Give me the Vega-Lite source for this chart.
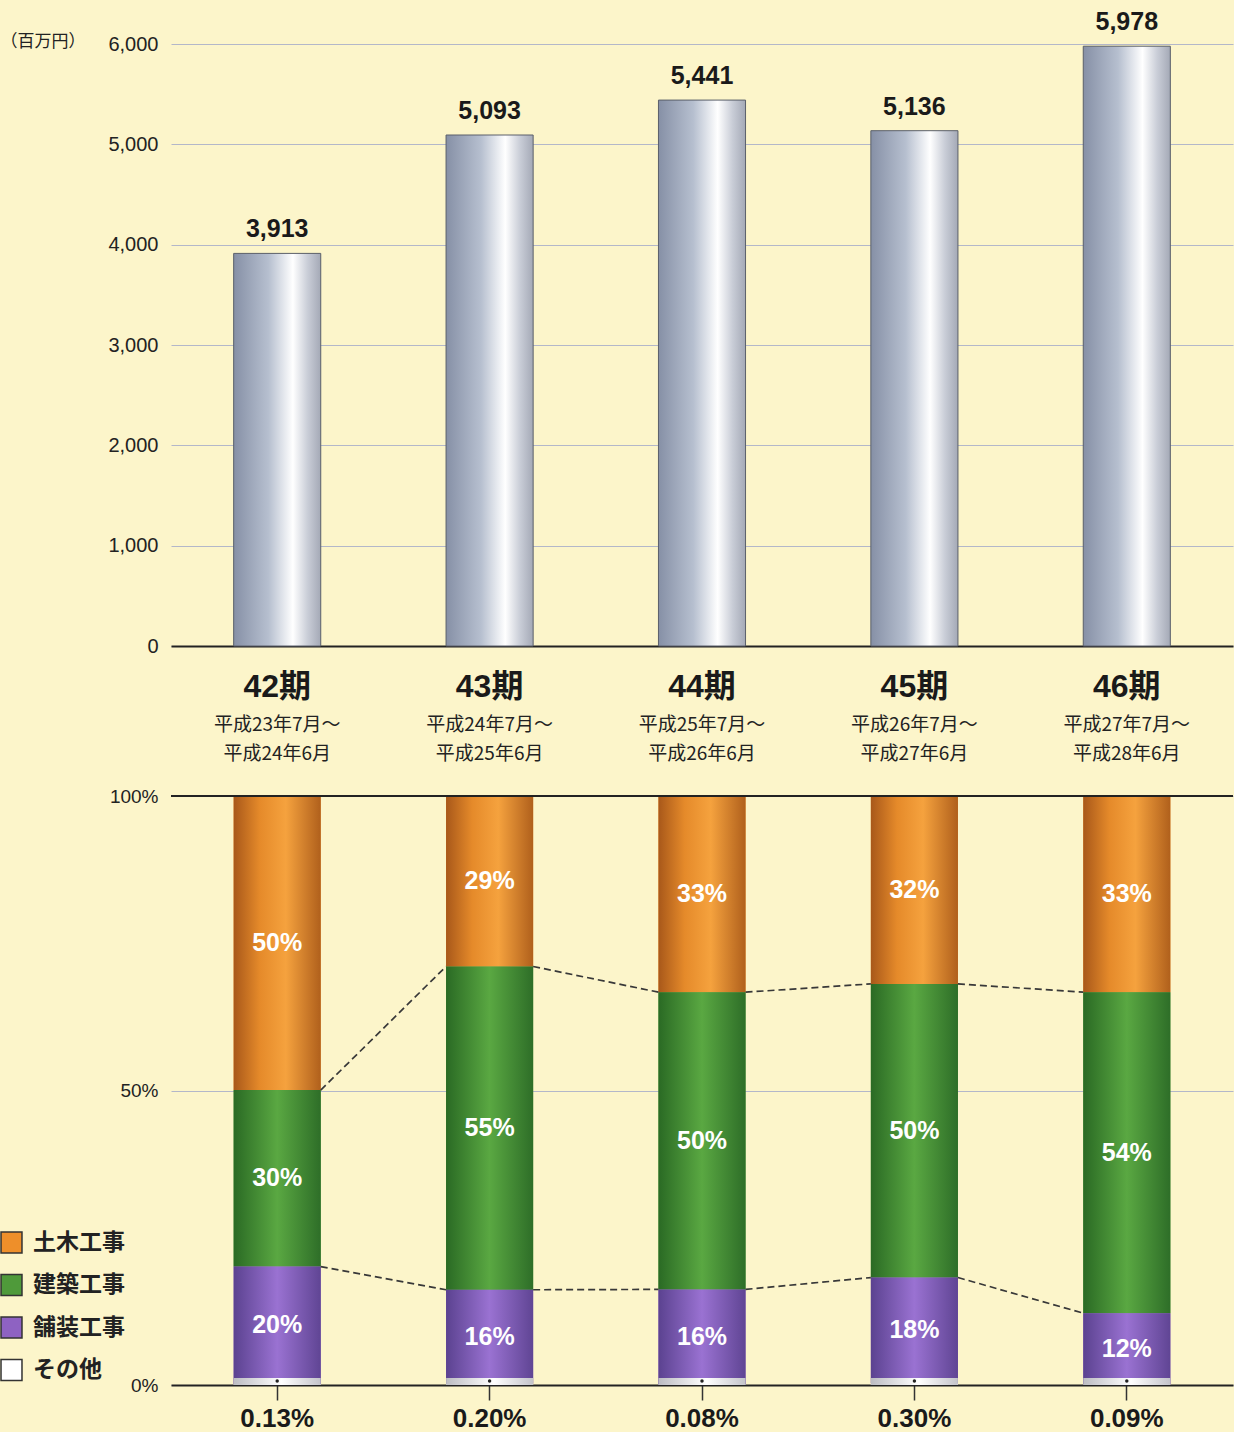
{
  "$schema": "https://vega.github.io/schema/vega-lite/v6.json",
  "background": "#fcf5ca",
  "padding": {"top": 10, "left": 0, "right": 0, "bottom": 0},
  "config": {
    "font": "Liberation Sans, Noto Sans CJK JP, sans-serif",
    "view": {"stroke": null},
    "axis": {"labelColor": "#222222", "labelFont": "Liberation Sans, Noto Sans CJK JP, sans-serif"}
  },
  "spacing": 23,
  "vconcat": [
    {
      "width": 1062,
      "height": 602,
      "data": {"values": [
        {"period": "42期", "sales": 3913, "term": "平成23年7月～\n平成24年6月"},
        {"period": "43期", "sales": 5093, "term": "平成24年7月～\n平成25年6月"},
        {"period": "44期", "sales": 5441, "term": "平成25年7月～\n平成26年6月"},
        {"period": "45期", "sales": 5136, "term": "平成26年7月～\n平成27年6月"},
        {"period": "46期", "sales": 5978, "term": "平成27年7月～\n平成28年6月"}
      ]},
      "encoding": {
        "x": {"field": "period", "type": "nominal", "sort": null,
          "scale": {"paddingInner": 0.59, "paddingOuter": 0.295},
          "axis": {"title": null, "labelAngle": 0, "ticks": false, "tickSize": 0, "labelPadding": 25,
            "labelFontSize": 32, "labelFontWeight": "bold", "labelColor": "#1a1a1a",
            "domainColor": "#222222", "domainWidth": 2, "grid": false}}
      },
      "layer": [
        {
          "mark": {"type": "bar", "stroke": "#5a5f6a", "strokeWidth": 1,
            "color": {"gradient": "linear", "x1": 0, "x2": 1, "y1": 0, "y2": 0,
              "stops": [
                {"offset": 0, "color": "#8690a6"},
                {"offset": 0.4, "color": "#b6bfcf"},
                {"offset": 0.68, "color": "#ffffff"},
                {"offset": 0.85, "color": "#c9cdd7"},
                {"offset": 1, "color": "#a4a9b6"}
              ]}},
          "encoding": {
            "y": {"field": "sales", "type": "quantitative",
              "scale": {"domain": [0, 6000]},
              "axis": {"values": [0, 1000, 2000, 3000, 4000, 5000, 6000], "format": ",d",
                "labelFontSize": 20, "labelPadding": 13, "domain": false, "ticks": false,
                "gridColor": "#b3b7c9", "gridWidth": 1.2,
                "title": "（百万円）", "titleAngle": 0, "titleAlign": "left", "titleBaseline": "middle",
                "titleX": -171, "titleY": -3, "titleFontSize": 17, "titleFontWeight": "normal",
                "titleColor": "#222222", "titleFont": "Noto Sans CJK JP"}}
          }
        },
        {
          "mark": {"type": "text", "baseline": "alphabetic", "dy": -16, "fontSize": 25,
            "fontWeight": "bold", "color": "#1a1a1a"},
          "encoding": {
            "y": {"field": "sales", "type": "quantitative"},
            "text": {"field": "sales", "type": "quantitative", "format": ",d"}
          }
        },
        {
          "mark": {"type": "text", "baseline": "top", "dy": 70, "fontSize": 19,
            "lineBreak": "\n", "lineHeight": 29, "color": "#222222",
            "font": "Noto Sans CJK JP, Liberation Sans, sans-serif"},
          "encoding": {
            "y": {"datum": 0, "type": "quantitative"},
            "text": {"field": "term"}
          }
        }
      ]
    },
    {
      "width": 1062,
      "height": 589,
      "data": {"values": [
        {"period": "42期", "cat": "土木工事", "share": 0.50, "k": 4},
        {"period": "42期", "cat": "建築工事", "share": 0.30, "k": 3},
        {"period": "42期", "cat": "舗装工事", "share": 0.20, "k": 2},
        {"period": "42期", "cat": "その他", "share": 0.0013, "k": 1},
        {"period": "43期", "cat": "土木工事", "share": 0.29, "k": 4},
        {"period": "43期", "cat": "建築工事", "share": 0.55, "k": 3},
        {"period": "43期", "cat": "舗装工事", "share": 0.16, "k": 2},
        {"period": "43期", "cat": "その他", "share": 0.0020, "k": 1},
        {"period": "44期", "cat": "土木工事", "share": 0.33, "k": 4},
        {"period": "44期", "cat": "建築工事", "share": 0.50, "k": 3},
        {"period": "44期", "cat": "舗装工事", "share": 0.16, "k": 2},
        {"period": "44期", "cat": "その他", "share": 0.0008, "k": 1},
        {"period": "45期", "cat": "土木工事", "share": 0.32, "k": 4},
        {"period": "45期", "cat": "建築工事", "share": 0.50, "k": 3},
        {"period": "45期", "cat": "舗装工事", "share": 0.18, "k": 2},
        {"period": "45期", "cat": "その他", "share": 0.0030, "k": 1},
        {"period": "46期", "cat": "土木工事", "share": 0.33, "k": 4},
        {"period": "46期", "cat": "建築工事", "share": 0.54, "k": 3},
        {"period": "46期", "cat": "舗装工事", "share": 0.12, "k": 2},
        {"period": "46期", "cat": "その他", "share": 0.0009, "k": 1}
      ]},
      "transform": [
        {"stack": "share", "groupby": ["period"], "sort": [{"field": "k"}], "as": ["s0", "s1"], "offset": "normalize"},
        {"calculate": "(datum.s0 + datum.s1) / 2", "as": "mid"}
      ],
      "layer": [
        {
          "mark": {"type": "bar"},
          "encoding": {
            "x": {"field": "period", "type": "nominal", "sort": null,
              "scale": {"paddingInner": 0.59, "paddingOuter": 0.295},
              "axis": {"title": null, "labels": false, "ticks": true, "tickSize": 15, "tickColor": "#333333",
                "tickWidth": 1.5, "domain": true, "domainColor": "#222222", "domainWidth": 2, "grid": false}},
            "y": {"field": "s0", "type": "quantitative", "scale": {"domain": [0, 1]},
              "axis": {"values": [0, 0.5, 1], "format": ".0%", "labelFontSize": 19, "labelPadding": 13,
                "domain": false, "ticks": false, "gridColor": "#b3b7c9", "gridWidth": 1.2, "title": null}},
            "y2": {"field": "s1"},
            "color": {"field": "cat", "type": "nominal",
              "scale": {"domain": ["土木工事", "建築工事", "舗装工事", "その他"],
                "range": ["#ee8f2a", "#4f9a3a", "#8e62c2", "#ffffff"]},
              "legend": {"orient": "none", "legendX": -171, "legendY": 1187, "title": null,
                "symbolType": "square", "symbolSize": 440, "symbolStrokeColor": "#333333",
                "symbolStrokeWidth": 1.5, "symbolOpacity": 1,
                "labelFontSize": 23, "labelFontWeight": "bold", "labelColor": "#222222",
                "labelFont": "Noto Sans CJK JP", "labelOffset": 10, "rowPadding": 15.5}}
          }
        },
        {
          "transform": [{"filter": "datum.cat == '土木工事'"}],
          "mark": {"type": "bar",
            "color": {"gradient": "linear", "x1": 0, "x2": 1, "y1": 0, "y2": 0,
              "stops": [
                {"offset": 0, "color": "#a8581a"},
                {"offset": 0.3, "color": "#e58a2a"},
                {"offset": 0.6, "color": "#f5a23e"},
                {"offset": 1, "color": "#b0601c"}
              ]}},
          "encoding": {
            "x": {"field": "period", "type": "nominal", "sort": null},
            "y": {"field": "s0", "type": "quantitative"}, "y2": {"field": "s1"}}
        },
        {
          "transform": [{"filter": "datum.cat == '建築工事'"}],
          "mark": {"type": "bar",
            "color": {"gradient": "linear", "x1": 0, "x2": 1, "y1": 0, "y2": 0,
              "stops": [
                {"offset": 0, "color": "#2a6a24"},
                {"offset": 0.5, "color": "#5aa842"},
                {"offset": 1, "color": "#2e6e28"}
              ]}},
          "encoding": {
            "x": {"field": "period", "type": "nominal", "sort": null},
            "y": {"field": "s0", "type": "quantitative"}, "y2": {"field": "s1"}}
        },
        {
          "transform": [{"filter": "datum.cat == '舗装工事'"}],
          "mark": {"type": "bar",
            "color": {"gradient": "linear", "x1": 0, "x2": 1, "y1": 0, "y2": 0,
              "stops": [
                {"offset": 0, "color": "#5b4290"},
                {"offset": 0.5, "color": "#9a72d2"},
                {"offset": 1, "color": "#604594"}
              ]}},
          "encoding": {
            "x": {"field": "period", "type": "nominal", "sort": null},
            "y": {"field": "s0", "type": "quantitative"}, "y2": {"field": "s1"}}
        },
        {
          "transform": [{"filter": "datum.cat == 'その他'"}],
          "mark": {"type": "tick", "orient": "horizontal", "size": 87, "thickness": 7, "yOffset": -3.5,
            "color": {"gradient": "linear", "x1": 0, "x2": 1, "y1": 0, "y2": 0,
              "stops": [
                {"offset": 0, "color": "#bcbcc2"},
                {"offset": 0.55, "color": "#ffffff"},
                {"offset": 1, "color": "#c4c4ca"}
              ]}, "opacity": 1},
          "encoding": {
            "x": {"field": "period", "type": "nominal", "sort": null},
            "y": {"field": "s0", "type": "quantitative"}}
        },
        {
          "transform": [{"filter": "datum.cat == 'その他'"}],
          "mark": {"type": "point", "filled": true, "size": 12, "color": "#222222", "opacity": 1, "yOffset": -4},
          "encoding": {
            "x": {"field": "period", "type": "nominal", "sort": null},
            "y": {"field": "s0", "type": "quantitative"}}
        },
        {
          "transform": [
            {"filter": "datum.cat == '土木工事' || datum.cat == '舗装工事'"},
            {"calculate": "datum.cat == '土木工事' ? datum.s0 : datum.s1", "as": "b"},
            {"window": [{"op": "lead", "field": "b", "as": "nb"}, {"op": "lead", "field": "period", "as": "np"}],
              "groupby": ["cat"], "sort": [{"field": "period"}]},
            {"filter": "datum.np != null"}
          ],
          "mark": {"type": "rule", "strokeDash": [7, 4], "strokeWidth": 1.7, "color": "#383838"},
          "encoding": {
            "x": {"field": "period", "type": "nominal", "sort": null, "bandPosition": 1},
            "x2": {"field": "np", "bandPosition": 0},
            "y": {"field": "b", "type": "quantitative"},
            "y2": {"field": "nb"}
          }
        },
        {
          "transform": [{"filter": "datum.cat != 'その他'"}],
          "mark": {"type": "text", "fontSize": 25, "fontWeight": "bold", "color": "#ffffff", "baseline": "middle"},
          "encoding": {
            "x": {"field": "period", "type": "nominal", "sort": null},
            "y": {"field": "mid", "type": "quantitative"},
            "text": {"field": "share", "type": "quantitative", "format": ".0%"}
          }
        },
        {
          "transform": [{"filter": "datum.cat == 'その他'"}],
          "mark": {"type": "text", "fontSize": 26, "fontWeight": "bold", "color": "#1a1a1a", "baseline": "middle", "dy": 34},
          "encoding": {
            "x": {"field": "period", "type": "nominal", "sort": null},
            "y": {"field": "s0", "type": "quantitative"},
            "text": {"field": "share", "type": "quantitative", "format": ".2%"}
          }
        },
        {
          "mark": {"type": "rule", "color": "#222222", "strokeWidth": 2},
          "encoding": {"y": {"datum": 1, "type": "quantitative"}}
        }
      ]
    }
  ]
}
